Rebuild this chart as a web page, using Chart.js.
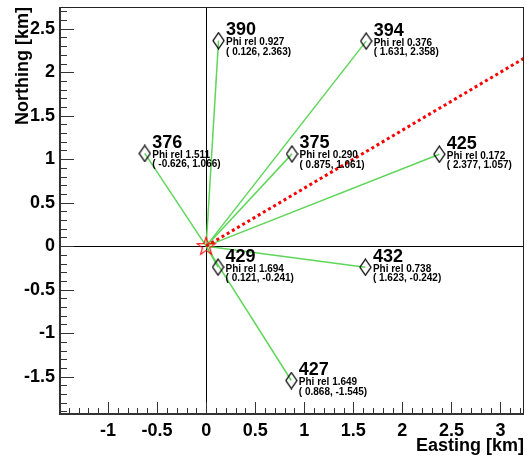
<!DOCTYPE html>
<html>
<head>
<meta charset="utf-8">
<script src="https://cdn.jsdelivr.net/npm/chart.js@4.4.1/dist/chart.umd.min.js"></script>
<style>
html,body{margin:0;padding:0;background:#fff;}
#wrap{width:527px;height:461px;}
</style>
</head>
<body>
<div id="wrap"><canvas id="c" width="527" height="461"></canvas></div>
<script>
// ---- data ----
const stations = ['390', '394', '376', '375', '425', '429', '432', '427'];
const easting  = [0.126, 1.631, -0.626, 0.875, 2.377, 0.121, 1.623, 0.868];
const northing = [2.363, 2.358, 1.066, 1.061, 1.057, -0.241, -0.242, -1.545];
const phiRel   = [0.927, 0.376, 1.511, 0.290, 0.172, 1.694, 0.738, 1.649];
const origin   = [0, 0];
const directionEnd = [3.24, 2.16];
const xRange = [-1.49, 3.24];
const yRange = [-1.93, 2.75];

const FONT = '"Liberation Sans", Arial, Helvetica, sans-serif';

// ---- custom point styles ----
function makeDiamond() {
  const c = document.createElement('canvas');
  c.width = 13; c.height = 18;
  const g = c.getContext('2d');
  g.strokeStyle = '#000'; g.lineWidth = 1.3;
  g.beginPath();
  g.moveTo(6.5, 1); g.lineTo(12, 9); g.lineTo(6.5, 17); g.lineTo(1, 9); g.closePath();
  g.stroke();
  return c;
}
function makeStar() {
  const c = document.createElement('canvas');
  c.width = 22; c.height = 22;
  const g = c.getContext('2d');
  g.strokeStyle = '#ff0000'; g.lineWidth = 1.1;
  g.beginPath();
  const cx = 11, cy = 11.5, R = 9.5, r = 3.8;
  for (let i = 0; i < 10; i++) {
    const a = -Math.PI / 2 + i * Math.PI / 5;
    const rad = i % 2 === 0 ? R : r;
    const px = cx + rad * Math.cos(a), py = cy + rad * Math.sin(a);
    if (i === 0) g.moveTo(px, py); else g.lineTo(px, py);
  }
  g.closePath(); g.stroke();
  return c;
}
const diamond = makeDiamond();
const star = makeStar();

// ---- datasets ----
const datasets = [];
stations.forEach((s, i) => {
  datasets.push({
    type: 'line',
    data: [{x: origin[0], y: origin[1]}, {x: easting[i], y: northing[i]}],
    borderColor: '#5fd65a', borderWidth: 1.5,
    pointRadius: 0, fill: false, order: 5
  });
});
datasets.push({
  type: 'line',
  data: [{x: origin[0], y: origin[1]}, {x: directionEnd[0], y: directionEnd[1]}],
  borderColor: '#ff0000', borderWidth: 3, borderDash: [3, 3],
  pointRadius: 0, fill: false, order: 1
});
datasets.push({
  type: 'scatter',
  data: stations.map((s, i) => ({x: easting[i], y: northing[i]})),
  pointStyle: diamond, pointRadius: 8, order: 2
});
datasets.push({
  type: 'scatter',
  data: [{x: origin[0], y: origin[1]}],
  pointStyle: star, pointRadius: 10, order: 0
});

// ---- plugins ----
const framePlugin = {
  id: 'frame',
  beforeDatasetsDraw(chart) {
    const {ctx, chartArea: a, scales: {x, y}} = chart;
    ctx.save();
    ctx.strokeStyle = '#333';
    ctx.lineWidth = 1;
    for (let k = Math.ceil(xRange[0] * 10); k <= Math.floor(xRange[1] * 10); k++) {
      const major = k % 5 === 0;
      const px = Math.round(x.getPixelForValue(k / 10)) + 0.5;
      ctx.beginPath(); ctx.moveTo(px, a.bottom); ctx.lineTo(px, a.bottom - (major ? 12 : 6)); ctx.stroke();
    }
    for (let k = Math.ceil(yRange[0] * 10); k <= Math.floor(yRange[1] * 10); k++) {
      const major = k % 5 === 0;
      const py = Math.round(y.getPixelForValue(k / 10)) + 0.5;
      ctx.beginPath(); ctx.moveTo(a.left, py); ctx.lineTo(a.left + (major ? 14 : 7), py); ctx.stroke();
    }
    ctx.restore();
  },
  afterDraw(chart) {
    const {ctx, chartArea: a} = chart;
    ctx.save();
    ctx.strokeStyle = '#222'; ctx.lineWidth = 1;
    ctx.strokeRect(a.left + 0.5, a.top + 0.5, a.right - a.left - 1, a.bottom - a.top - 1);
    ctx.lineWidth = 2; ctx.strokeStyle = '#333';
    ctx.beginPath(); ctx.moveTo(a.left, a.top); ctx.lineTo(a.left, a.bottom); ctx.lineTo(a.right, a.bottom); ctx.stroke();
    ctx.restore();
  }
};

const labelPlugin = {
  id: 'stationLabels',
  afterDatasetsDraw(chart) {
    const {ctx, scales: {x, y}} = chart;
    ctx.save();
    ctx.fillStyle = '#000'; ctx.textAlign = 'left'; ctx.textBaseline = 'alphabetic';
    stations.forEach((s, i) => {
      const px = x.getPixelForValue(easting[i]);
      const py = y.getPixelForValue(northing[i]);
      ctx.font = 'bold 18px ' + FONT;
      ctx.fillText(s, px + 7.5, py - 5.5);
      ctx.font = 'bold 10px ' + FONT;
      ctx.fillText('Phi rel ' + phiRel[i].toFixed(3), px + 7.5, py + 4.5);
      ctx.fillText('( ' + easting[i].toFixed(3) + ', ' + northing[i].toFixed(3) + ')', px + 7.5, py + 14);
    });
    ctx.restore();
  }
};

const fmt = v => String(+(+v).toFixed(1)).replace(/^-0$/, '0');
const keepHalf = scale => { scale.ticks = scale.ticks.filter(t => Math.abs(t.value * 2 - Math.round(t.value * 2)) < 1e-6); };
const zeroLine = c => (c.tick && Math.abs(c.tick.value) < 1e-9) ? '#000' : 'rgba(0,0,0,0)';
const noPad = s => { s.paddingTop = 0; s.paddingBottom = 0; s.paddingLeft = 0; s.paddingRight = 0; };

new Chart(document.getElementById('c'), {
  data: {datasets},
  options: {
    responsive: false, devicePixelRatio: 1, animation: false, events: [],
    layout: {autoPadding: false, padding: {top: 7, right: 3, left: 0, bottom: 0}},
    plugins: {legend: {display: false}, tooltip: {enabled: false}},
    scales: {
      x: {
        type: 'linear', position: 'bottom', min: xRange[0], max: xRange[1],
        border: {display: false},
        grid: {color: zeroLine, lineWidth: 1, drawTicks: false},
        ticks: {stepSize: 0.5, includeBounds: false, padding: 6, color: '#000',
                font: {family: FONT, size: 18, weight: 'bold'}, callback: v => fmt(v), maxRotation: 0, autoSkip: false},
        afterBuildTicks: keepHalf,
        afterFit: s => { s.height = 47; noPad(s); },
        title: {display: true, text: 'Easting [km]', align: 'end', color: '#000',
                font: {family: FONT, size: 18, weight: 'bold'}, padding: {top: 4, bottom: 4}}
      },
      y: {
        type: 'linear', position: 'left', min: yRange[0], max: yRange[1],
        border: {display: false},
        grid: {color: zeroLine, lineWidth: 1, drawTicks: false},
        ticks: {stepSize: 0.5, includeBounds: false, padding: 5, color: '#000',
                font: {family: FONT, size: 18, weight: 'bold'}, callback: v => fmt(v), autoSkip: false},
        afterBuildTicks: keepHalf,
        afterFit: s => { s.width = 60; noPad(s); },
        title: {display: true, text: 'Northing [km]', align: 'end', color: '#000',
                font: {family: FONT, size: 18, weight: 'bold'}, padding: {top: 12.5, bottom: 0}}
      }
    }
  },
  plugins: [framePlugin, labelPlugin]
});
</script>
</body>
</html>
